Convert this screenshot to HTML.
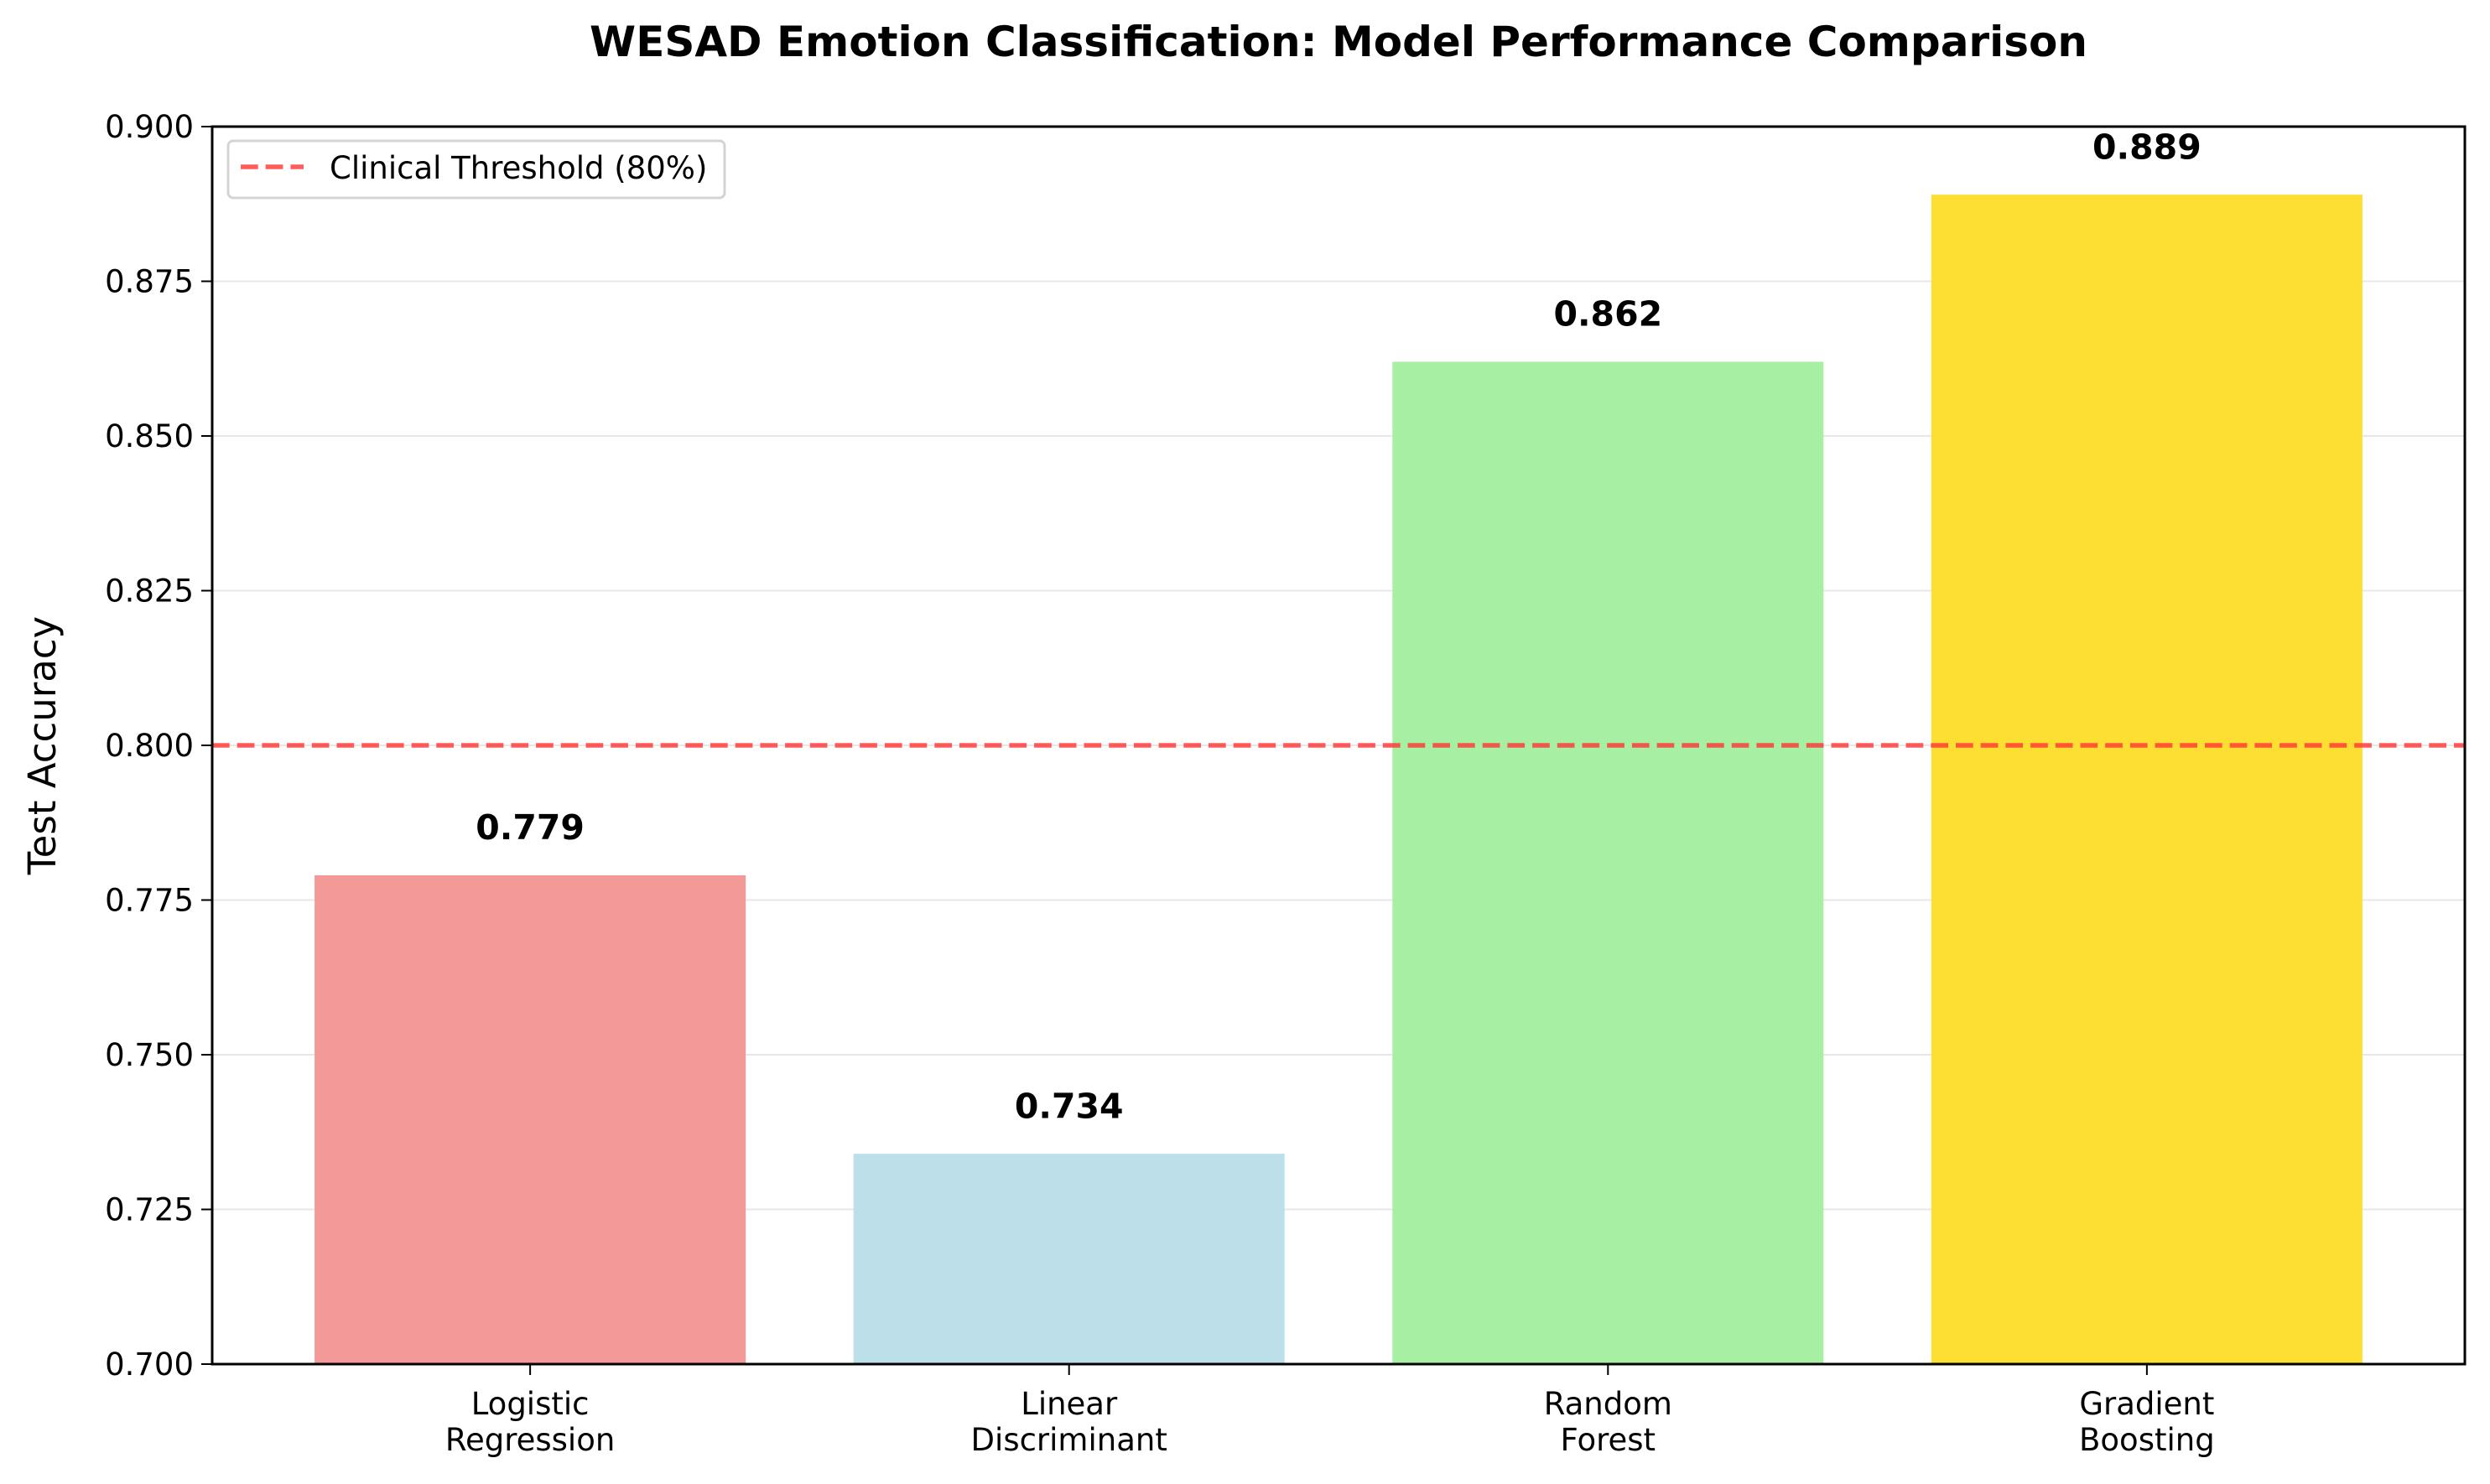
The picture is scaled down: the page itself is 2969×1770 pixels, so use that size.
<!DOCTYPE html>
<html><head><meta charset="utf-8"><style>
html,body{margin:0;padding:0;background:#fff;}
svg text{font-family:"DejaVu Sans","Liberation Sans",sans-serif;}
</style></head><body>
<svg id="chart" width="2969" height="1765" viewBox="0 0 2969 1765" xmlns="http://www.w3.org/2000/svg">
<g id="grid"></g>
<g id="bars"></g>
<g id="labels"></g>
<g id="axes"></g>
<text x="1596" y="67" font-size="50" font-weight="bold" text-anchor="middle">WESAD Emotion Classification: Model Performance Comparison</text>
<text transform="translate(66,889) rotate(-90)" font-size="45" text-anchor="middle">Test Accuracy</text>
<g>
<rect x="272" y="168" width="592" height="68" rx="6" fill="#fff" stroke="#d4d4d4" stroke-width="3"/>
<line x1="287" y1="199" x2="362" y2="199" stroke="#ff3333" stroke-opacity="0.8" stroke-width="5.5" stroke-dasharray="20.7,9"/>
<text x="393" y="213" font-size="37">Clinical Threshold (80%)</text>
</g>
</svg>
<script>
const categories = [["Logistic","Regression"],["Linear","Discriminant"],["Random","Forest"],["Gradient","Boosting"]];
const values = [0.779, 0.734, 0.862, 0.889];
const valueLabels = ["0.779","0.734","0.862","0.889"];
const colors = ["#f39a99","#bddfea","#a7f0a3","#fdde33"];
const yTicks = [0.700,0.725,0.750,0.775,0.800,0.825,0.850,0.875,0.900];
const threshold = 0.8;

const L=253,R=2939,T=151,B=1627;
const yMin=0.7,yMax=0.9,xMin=-0.59,xMax=3.59;
const ys=v=>B-(v-yMin)/(yMax-yMin)*(B-T);
const xs=v=>L+(v-xMin)/(xMax-xMin)*(R-L);
const NS="http://www.w3.org/2000/svg";
function mk(tag,attrs,parent,text){const e=document.createElementNS(NS,tag);for(const k in attrs)e.setAttribute(k,attrs[k]);if(text!==undefined)e.textContent=text;parent.appendChild(e);return e;}
const grid=document.getElementById('grid'),bars=document.getElementById('bars'),labels=document.getElementById('labels'),axes=document.getElementById('axes');

yTicks.forEach(t=>{
  const g=mk('line',{x1:L,x2:R,y1:ys(t),y2:ys(t),stroke:'#b0b0b0','stroke-opacity':0.3,'stroke-width':2},grid);
  
  
  const tk=mk('line',{x1:L-13,x2:L,y1:ys(t),y2:ys(t),stroke:'#000','stroke-width':2},axes);
  
  
  const tl=mk('text',{x:L-22,y:ys(t)+13,'font-size':37,'text-anchor':'end'},axes,t.toFixed(3));
  
  
});

values.forEach((v,i)=>{
  const x0=xs(i-0.4),x1=xs(i+0.4);
  const r=mk('rect',{x:x0,y:ys(v),width:x1-x0,height:B-ys(v),fill:colors[i]},bars);
  
  
  const t=mk('text',{x:xs(i),y:ys(v+0.0058),'font-size':41,'font-weight':'bold','text-anchor':'middle'},labels,valueLabels[i]);
  
  
  const tk=mk('line',{x1:xs(i),x2:xs(i),y1:B,y2:B+13,stroke:'#000','stroke-width':2},axes);
  
  
  categories[i].forEach((line,j)=>{
    const xl=mk('text',{x:xs(i),y:1687+j*43,'font-size':37,'text-anchor':'middle'},axes,line);
    
    
  });
});

const th=mk('line',{x1:L,x2:R,y1:ys(threshold),y2:ys(threshold),stroke:'#ff3333','stroke-opacity':0.8,'stroke-width':5.5,'stroke-dasharray':'20.7,9'},axes);


const fr=mk('rect',{x:L,y:T,width:R-L,height:B-T,fill:'none',stroke:'#000','stroke-width':3},axes);


</script>
</body></html>
